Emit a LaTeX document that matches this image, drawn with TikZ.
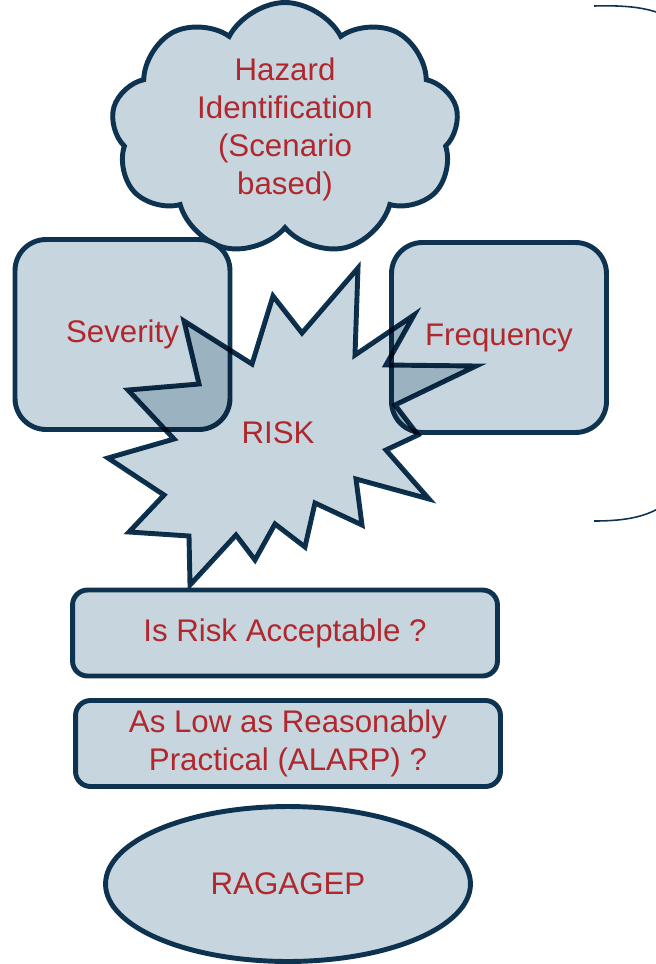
\documentclass[tikz,border=0pt]{standalone}
\usepackage{fontspec}
\setmainfont{Liberation Sans}
\usetikzlibrary{positioning,shapes.geometric,shapes.symbols}
\definecolor{RKFill}{HTML}{C7D6DE}
\definecolor{RKLine}{HTML}{0D3350}
\definecolor{RKText}{HTML}{B0282E}
\tikzset{
  outline/.style={draw=RKLine,line width=2.8pt,fill=RKFill},
  words/.style={text=RKText,font=\fontsize{17.8}{21.6}\selectfont,align=center},
  square/.style={outline,words,rounded corners=6.2mm,minimum width=4.3cm,minimum height=3.8cm},
  bar/.style={outline,words,rounded corners=3mm,minimum width=8.5cm,minimum height=1.72cm},
  puff/.style={outline,words,cloud,cloud puffs=9,cloud puff arc=125,aspect=1.5,inner sep=0pt,
               minimum width=6.95cm,minimum height=4.3cm},
  oval/.style={outline,words,ellipse,minimum width=7.3cm,minimum height=3.1cm},
  burst/.style={outline,line join=miter,blend mode=multiply},
  bracket/.style={draw=RKLine,line width=0.9pt},
}
\begin{document}
\begin{tikzpicture}[x=.02cm,y=-.02cm]
    \useasboundingbox (0,0) rectangle (656,964);
    % top: hazard cloud
    \node[puff] (hazard) at (285,129)
      {Hazard\\Identification\\(Scenario\\based)};
    % the two factors
    \node[square] (severity) at (122.5,334.5) {Severity};
    \node[square] (frequency) at (499,337.5) {Frequency};
    % risk burst over both
    \draw[burst] (358,268) -- (355,355) -- (414,315) -- (386,365) -- (476,366)
      -- (395,405) -- (418,435) -- (386,450) -- (429,499) -- (356,479)
      -- (362,525) -- (315,503) -- (305,547) -- (275,524) -- (255,560)
      -- (236,535) -- (190,585) -- (189,536) -- (129,532) -- (164,495)
      -- (108,458) -- (174,439) -- (128,390) -- (199,384) -- (184,321)
      -- (252,364) -- (273,296) -- (302,333) -- cycle;
    \node[words] (risk) at (278,433) {RISK};
    % questions below
    \node[bar] (accept) at (285,633) {Is Risk Acceptable ?};
    \node[bar] (alarp) at (288,743.5) {As Low as Reasonably\\Practical (ALARP) ?};
    \node[oval] (ragagep) at (288,884) {RAGAGEP};
    % bracket ends at the right edge
    \coordinate (topend) at (664,15);
    \coordinate (lowend) at (664,505);
    \draw[bracket] (594,6) .. controls (628,5) and (648,8) .. (topend);
    \draw[bracket] (594,521) .. controls (628,521) and (648,516) .. (lowend);
  \end{tikzpicture}
\end{document}
